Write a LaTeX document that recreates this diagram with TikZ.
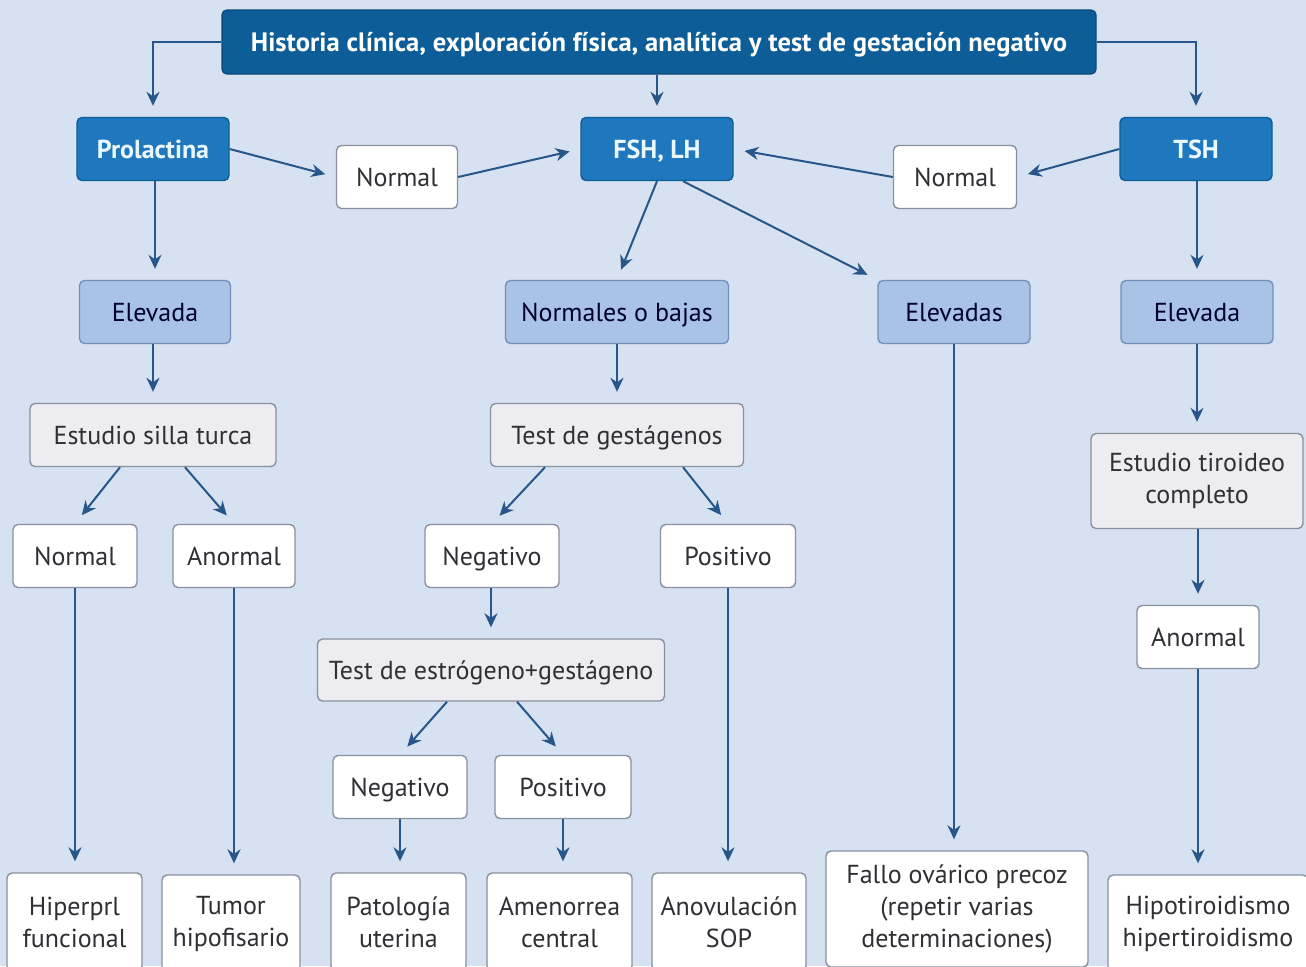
\documentclass[tikz,border=0pt]{standalone}
\usepackage{fontspec}
\setmainfont{PT Sans}
\usetikzlibrary{arrows.meta}
\definecolor{fondo}{HTML}{D6E1F1}
\definecolor{oscuro}{HTML}{0C5D98}
\definecolor{medio}{HTML}{1F77BD}
\definecolor{claro}{HTML}{A8C3E6}
\definecolor{bordeclaro}{HTML}{7390B8}
\definecolor{grisbox}{HTML}{EDEDF1}
\definecolor{borde}{HTML}{8A909C}
\definecolor{linea}{HTML}{27578A}
\definecolor{texto}{HTML}{2E3035}
\begin{document}
\begin{tikzpicture}[x=0.5pt,y=-0.5pt,
	base/.style={rounded corners=2.5pt,line width=0.7pt,align=center,inner sep=0pt,
		minimum height=31.5pt,text height=10pt,text depth=1pt,font=\fontsize{13}{16}\selectfont},
	varias/.style={text height={},text depth={}},
	cabecera/.style={base,fill=oscuro,draw=oscuro!80!black,text=white,font=\bfseries\fontsize{13.3}{16}\selectfont},
	hormona/.style={base,fill=medio,draw=oscuro,text=white!92!cyan,font=\bfseries\fontsize{13}{16}\selectfont},
	nivel/.style={base,fill=claro,draw=bordeclaro,text=black!80!blue},
	prueba/.style={base,fill=grisbox,draw=borde,text=texto},
	caja/.style={base,fill=white,draw=borde,text=texto},
	flecha/.style={draw=linea,line width=1pt,-{Stealth[length=7pt,width=6.5pt]},shorten >=5.5pt}]
	\fill[fondo] (0,0) rectangle (1306,966);
	\clip (0,0) rectangle (1306,966);
	%%%%%%%% primera fila
	\node[cabecera,minimum width=437pt,minimum height=32pt] (hist) at (659,42) {Historia clínica, exploración física, analítica y test de gestación negativo};
	\node[hormona,minimum width=76pt] (prl) at (153,149) {Prolactina};
	\node[hormona,minimum width=76pt] (fsh) at (657,149) {FSH, LH};
	\node[hormona,minimum width=76pt] (tsh) at (1196,149) {TSH};
	\node[caja,minimum width=60.5pt] (normi) at (397,177) {Normal};
	\node[caja,minimum width=61.5pt] (normd) at (955,177) {Normal};
	%%%%%%%% niveles
	\node[nivel,minimum width=75.5pt] (elevi) at (155,312) {Elevada};
	\node[nivel,minimum width=111.5pt] (bajas) at (617,312) {Normales o bajas};
	\node[nivel,minimum width=76pt] (elevs) at (954,312) {Elevadas};
	\node[nivel,minimum width=76pt] (elevd) at (1197,312) {Elevada};
	%%%%%%%% pruebas
	\node[prueba,minimum width=123pt] (silla) at (153,435) {Estudio silla turca};
	\node[prueba,minimum width=126.5pt] (gest) at (617,435) {Test de gestágenos};
	\node[prueba,varias,minimum width=106pt,minimum height=47.5pt] (tiro) at (1197,481) {Estudio tiroideo\\completo};
	\node[caja,minimum width=62pt] (normb) at (75,556) {Normal};
	\node[caja,minimum width=61pt] (anor) at (234,556) {Anormal};
	\node[caja,minimum width=67pt] (neg) at (492,556) {Negativo};
	\node[caja,minimum width=67.5pt] (pos) at (728,556) {Positivo};
	\node[prueba,minimum width=173.5pt,minimum height=31pt] (estr) at (491,670) {Test de estrógeno+gestágeno};
	\node[caja,minimum width=61pt] (anord) at (1198,637) {Anormal};
	\node[caja,minimum width=67pt] (negb) at (400,787) {Negativo};
	\node[caja,minimum width=68pt] (posb) at (563,787) {Positivo};
	%%%%%%%% diagnosticos
	\node[caja,varias,minimum width=67.5pt,minimum height=49pt] (hipr) at (74.5,922) {Hiperprl\\funcional};
	\node[caja,varias,minimum width=69pt,minimum height=49pt] (tumor) at (231,924) {Tumor\\hipofisario};
	\node[caja,varias,minimum width=67.5pt,minimum height=49pt] (pato) at (398.5,922) {Patología\\uterina};
	\node[caja,varias,minimum width=72.5pt,minimum height=49pt] (amen) at (559.5,922) {Amenorrea\\central};
	\node[caja,varias,minimum width=77pt,minimum height=49pt] (anov) at (729,922) {Anovulación\\SOP};
	\node[caja,varias,minimum width=131pt,minimum height=58pt] (fallo) at (957,909) {Fallo ovárico precoz\\(repetir varias\\determinaciones)};
	\node[caja,varias,minimum width=100pt,minimum height=49pt] (hipo) at (1208,924) {Hipotiroidismo\\hipertiroidismo};
	%%%%%%%% flechas
	\draw[flecha] (hist.west) -| (prl.north);
	\draw[flecha] (hist.south -| fsh.north) -- (fsh.north);
	\draw[flecha] (hist.east) -| (tsh.north);
	\draw[flecha] (prl.east) -- (normi.west);
	\draw[flecha] (normi.east) -- (fsh.west);
	\draw[flecha] (tsh.west) -- (normd.east);
	\draw[flecha] (normd.west) -- (fsh.east);
	\draw[flecha] (prl.south -| elevi.north) -- (elevi.north);
	\draw[flecha] (fsh.south) -- (bajas.north);
	\draw[flecha] ([xshift=13pt]fsh.south) -- (elevs.north west);
	\draw[flecha] (tsh.south -| elevd.north) -- (elevd.north);
	\draw[flecha] (elevi.south -| silla.north) -- (silla.north);
	\draw[flecha] (bajas.south) -- (gest.north);
	\draw[flecha] (elevd.south) -- (tiro.north);
	\draw[flecha] ([xshift=-16.5pt]silla.south) -- (normb.north);
	\draw[flecha] ([xshift=16pt]silla.south) -- (anor.north);
	\draw[flecha] ([xshift=-36pt]gest.south) -- (neg.north);
	\draw[flecha] ([xshift=33pt]gest.south) -- (pos.north);
	\draw[flecha] (neg.south -| estr.north) -- (estr.north);
	\draw[flecha] ([xshift=-22pt]estr.south) -- (negb.north);
	\draw[flecha] ([xshift=13pt]estr.south) -- (posb.north);
	\draw[flecha] (tiro.south -| anord.north) -- (anord.north);
	\draw[flecha] (normb.south) -- (normb.south |- hipr.north);
	\draw[flecha] (anor.south) -- (anor.south |- tumor.north);
	\draw[flecha] (negb.south) -- (negb.south |- pato.north);
	\draw[flecha] (posb.south) -- (posb.south |- amen.north);
	\draw[flecha] (pos.south) -- (pos.south |- anov.north);
	\draw[flecha] (elevs.south) -- (elevs.south |- fallo.north);
	\draw[flecha] (anord.south) -- (anord.south |- hipo.north);
\end{tikzpicture}
\end{document}
